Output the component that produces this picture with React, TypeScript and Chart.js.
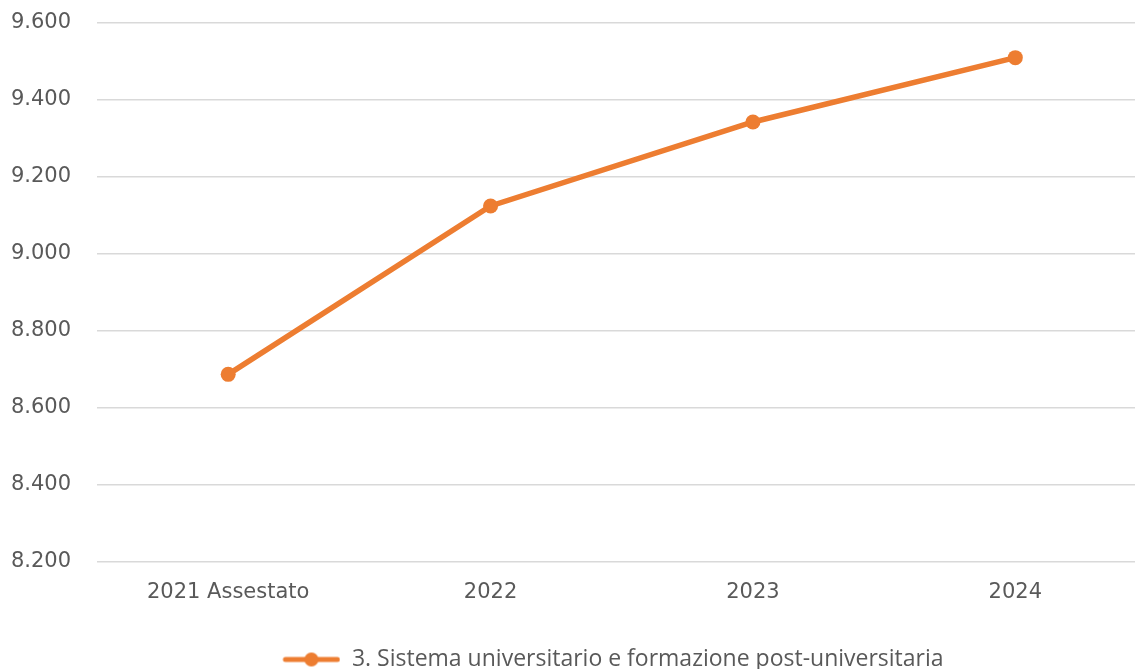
import React, { useEffect, useRef } from "react";
import { Chart, registerables } from "chart.js";

Chart.register(...registerables);

const categories = ["2021 Assestato", "2022", "2023", "2024"];
const seriesName = "3. Sistema universitario e formazione post-universitaria";
const seriesValues = [8687, 9124, 9342, 9509];
const yTicks = [8200, 8400, 8600, 8800, 9000, 9200, 9400, 9600];

const ORANGE = "#ED7D31";

function fmt(v: number): string {
  const s = Math.round(v).toString();
  return s.replace(/\B(?=(\d{3})+(?!\d))/g, ".");
}

function makeLegendIcon(): HTMLCanvasElement {
  const c = document.createElement("canvas");
  c.width = 130;
  c.height = 16;
  const ctx = c.getContext("2d")!;
  const off = 72;
  ctx.strokeStyle = ORANGE;
  ctx.lineWidth = 5;
  ctx.lineCap = "round";
  ctx.beginPath();
  ctx.moveTo(off + 3, 8);
  ctx.lineTo(off + 55, 8);
  ctx.stroke();
  ctx.fillStyle = ORANGE;
  ctx.beginPath();
  ctx.arc(off + 29, 8, 7, 0, Math.PI * 2);
  ctx.fill();
  return c;
}

export default function App() {
  const ref = useRef<HTMLCanvasElement | null>(null);
  useEffect(() => {
    if (!ref.current) return;
    const icon = makeLegendIcon();
    const chart = new Chart(ref.current, {
      type: "line",
      data: {
        labels: categories,
        datasets: [
          {
            label: seriesName,
            data: seriesValues,
            borderColor: ORANGE,
            backgroundColor: ORANGE,
            borderWidth: 5.5,
            pointRadius: 7.5,
            pointHoverRadius: 7.5,
            pointBackgroundColor: ORANGE,
            pointBorderWidth: 0,
            pointStyle: "circle",
            tension: 0,
          },
        ],
      },
      options: {
        animation: false,
        responsive: false,
        maintainAspectRatio: false,
        layout: { padding: { top: -6, left: 0, right: 0, bottom: 0 } },
        plugins: {
          tooltip: { enabled: false },
          legend: {
            position: "bottom",
            labels: {
              usePointStyle: true,
              pointStyleWidth: 130,
              color: "#595959",
              font: { family: "'Open Sans'", size: 23 },
              padding: 8,
              generateLabels: () => [
                {
                  text: seriesName,
                  fillStyle: ORANGE,
                  strokeStyle: ORANGE,
                  fontColor: "#595959",
                  lineWidth: 0,
                  pointStyle: icon as any,
                  hidden: false,
                  datasetIndex: 0,
                } as any,
              ],
            },
          },
        },
        scales: {
          x: {
            offset: true,
            afterFit: (scale: any) => {
              scale.height = 78;
            },
            grid: { display: false, drawTicks: false },
            border: { display: false },
            ticks: {
              color: "#595959",
              font: { family: "'DejaVu Sans'", size: 21 },
              padding: 18,
              maxRotation: 0,
            },
          },
          y: {
            min: 8200,
            max: 9600,
            afterFit: (scale: any) => {
              scale.width = 97;
            },
            afterBuildTicks: (scale: any) => {
              scale.ticks = yTicks.map((v) => ({ value: v }));
            },
            grid: { color: "#d9d9d9", lineWidth: 1.5, drawTicks: false },
            border: { display: false },
            ticks: {
              color: "#595959",
              font: { family: "'DejaVu Sans'", size: 21 },
              padding: 26,
              callback: (v: any) => fmt(Number(v)),
            },
          },
        },
      },
    });
    return () => chart.destroy();
  }, []);
  return (
    <div
      style={{
        position: "fixed",
        left: 0,
        top: 0,
        width: 1135,
        height: 669,
        overflow: "hidden",
        background: "#fff",
      }}
    >
      <canvas
        ref={ref}
        width={1154}
        height={697}
        style={{ display: "block", marginTop: -16 }}
      />
    </div>
  );
}
